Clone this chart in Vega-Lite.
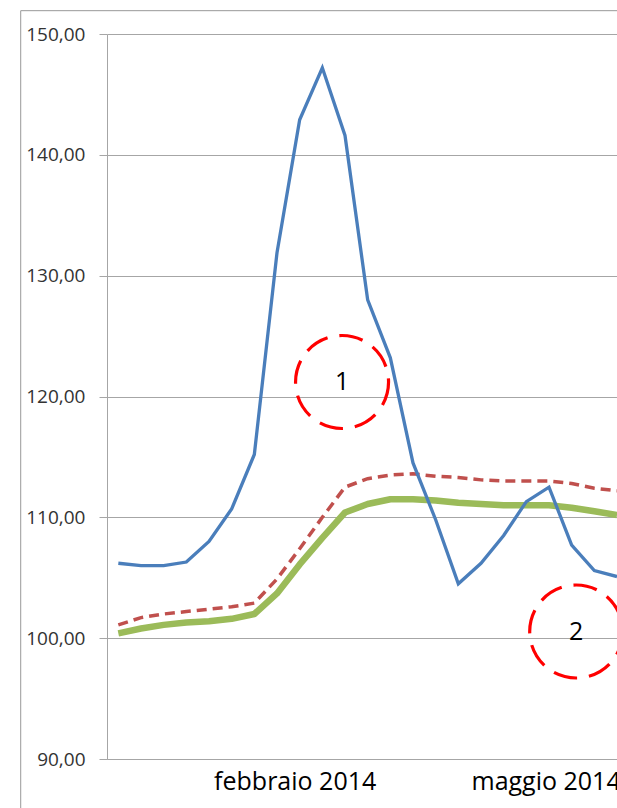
{
  "$schema": "https://vega.github.io/schema/vega-lite/v6.json",
  "width": 510,
  "height": 725,
  "autosize": {"type": "none"},
  "padding": {"left": 107, "top": 34, "right": 0, "bottom": 49},
  "background": "white",
  "config": {"view": {"stroke": null}, "font": "Open Sans"},
  "datasets": {
    "series": [
      {"i": 0, "blue": 106.2, "red": 101.1, "green": 100.4},
      {"i": 1, "blue": 106.0, "red": 101.7, "green": 100.8},
      {"i": 2, "blue": 106.0, "red": 102.0, "green": 101.1},
      {"i": 3, "blue": 106.3, "red": 102.2, "green": 101.3},
      {"i": 4, "blue": 108.0, "red": 102.4, "green": 101.4},
      {"i": 5, "blue": 110.7, "red": 102.6, "green": 101.6},
      {"i": 6, "blue": 115.2, "red": 102.9, "green": 102.0},
      {"i": 7, "blue": 131.9, "red": 104.9, "green": 103.7},
      {"i": 8, "blue": 142.9, "red": 107.4, "green": 106.1},
      {"i": 9, "blue": 147.2, "red": 110.0, "green": 108.3},
      {"i": 10, "blue": 141.6, "red": 112.5, "green": 110.4},
      {"i": 11, "blue": 128.0, "red": 113.2, "green": 111.1},
      {"i": 12, "blue": 123.2, "red": 113.5, "green": 111.5},
      {"i": 13, "blue": 114.5, "red": 113.6, "green": 111.5},
      {"i": 14, "blue": 109.8, "red": 113.4, "green": 111.4},
      {"i": 15, "blue": 104.5, "red": 113.3, "green": 111.2},
      {"i": 16, "blue": 106.2, "red": 113.1, "green": 111.1},
      {"i": 17, "blue": 108.5, "red": 113.0, "green": 111.0},
      {"i": 18, "blue": 111.3, "red": 113.0, "green": 111.0},
      {"i": 19, "blue": 112.5, "red": 113.0, "green": 111.0},
      {"i": 20, "blue": 107.7, "red": 112.8, "green": 110.8},
      {"i": 21, "blue": 105.6, "red": 112.4, "green": 110.5},
      {"i": 22, "blue": 105.1, "red": 112.2, "green": 110.2}
    ],
    "marks": [
      {"cx": 9.87, "cy": 121.2, "label": "1"},
      {"cx": 20.2, "cy": 100.55, "label": "2"}
    ]
  },
  "layer": [
    {
      "data": {"name": "series"},
      "mark": {"type": "line", "color": "#9BBB59", "strokeWidth": 6.5, "strokeJoin": "round"},
      "encoding": {
        "x": {
          "field": "i", "type": "quantitative",
          "scale": {"domain": [-0.5, 22], "nice": false, "zero": false},
          "axis": {
            "values": [7.78, 18.85],
            "labelExpr": "datum.value < 10 ? 'febbraio 2014' : 'maggio 2014'",
            "grid": false, "ticks": false, "domain": true,
            "domainColor": "#A6A6A6", "domainWidth": 1,
            "labelFontSize": 25, "labelColor": "#000000", "labelFont": "Open Sans",
            "labelBaseline": "alphabetic", "labelPadding": 30,
            "labelOverlap": false, "labelFlush": false, "title": null
          }
        },
        "y": {
          "field": "green", "type": "quantitative",
          "scale": {"domain": [90, 150], "nice": false, "zero": false},
          "axis": {
            "values": [90, 100, 110, 120, 130, 140, 150],
            "labelExpr": "replace(format(datum.value, '.2f'), '.', ',')",
            "grid": true, "gridColor": "#A6A6A6", "gridWidth": 1,
            "domain": true, "domainColor": "#A6A6A6", "domainWidth": 1,
            "ticks": true, "tickSize": 8, "tickColor": "#A6A6A6",
            "labelFontSize": 19, "labelColor": "#333333", "labelFont": "Open Sans",
            "labelPadding": 14, "title": null
          }
        }
      }
    },
    {
      "data": {"name": "series"},
      "mark": {"type": "line", "color": "#C0504D", "strokeWidth": 3.5, "strokeDash": [10, 6]},
      "encoding": {
        "x": {"field": "i", "type": "quantitative", "scale": {"domain": [-0.5, 22], "nice": false, "zero": false}},
        "y": {"field": "red", "type": "quantitative", "scale": {"domain": [90, 150], "nice": false, "zero": false}}
      }
    },
    {
      "data": {"name": "series"},
      "mark": {"type": "line", "color": "#4A7EBB", "strokeWidth": 3.3},
      "encoding": {
        "x": {"field": "i", "type": "quantitative", "scale": {"domain": [-0.5, 22], "nice": false, "zero": false}},
        "y": {"field": "blue", "type": "quantitative", "scale": {"domain": [90, 150], "nice": false, "zero": false}}
      }
    },
    {
      "data": {"name": "marks"},
      "mark": {"type": "point", "shape": "circle", "filled": false, "stroke": "#FF0000", "strokeWidth": 3.2, "strokeDash": [24, 12], "size": 8649, "opacity": 1},
      "encoding": {
        "x": {"field": "cx", "type": "quantitative", "scale": {"domain": [-0.5, 22], "nice": false, "zero": false}},
        "y": {"field": "cy", "type": "quantitative", "scale": {"domain": [90, 150], "nice": false, "zero": false}}
      }
    },
    {
      "data": {"name": "marks"},
      "mark": {"type": "text", "fontSize": 25, "font": "Open Sans", "color": "#000000", "align": "center", "baseline": "middle"},
      "encoding": {
        "x": {"field": "cx", "type": "quantitative", "scale": {"domain": [-0.5, 22], "nice": false, "zero": false}},
        "y": {"field": "cy", "type": "quantitative", "scale": {"domain": [90, 150], "nice": false, "zero": false}},
        "text": {"field": "label"}
      }
    },
    {
      "data": {"values": [{"a": 1}]},
      "mark": {"type": "rule", "color": "#999999", "strokeWidth": 1, "clip": false},
      "encoding": {
        "x": {"datum": -4.307, "type": "quantitative", "scale": {"domain": [-0.5, 22], "nice": false, "zero": false}},
        "y": {"datum": 151.93, "type": "quantitative", "scale": {"domain": [90, 150], "nice": false, "zero": false}},
        "y2": {"datum": 85.9}
      }
    },
    {
      "data": {"values": [{"a": 1}]},
      "mark": {"type": "rule", "color": "#999999", "strokeWidth": 1, "clip": false},
      "encoding": {
        "x": {"datum": -4.307, "type": "quantitative", "scale": {"domain": [-0.5, 22], "nice": false, "zero": false}},
        "x2": {"datum": 30},
        "y": {"datum": 151.93, "type": "quantitative", "scale": {"domain": [90, 150], "nice": false, "zero": false}}
      }
    }
  ]
}
